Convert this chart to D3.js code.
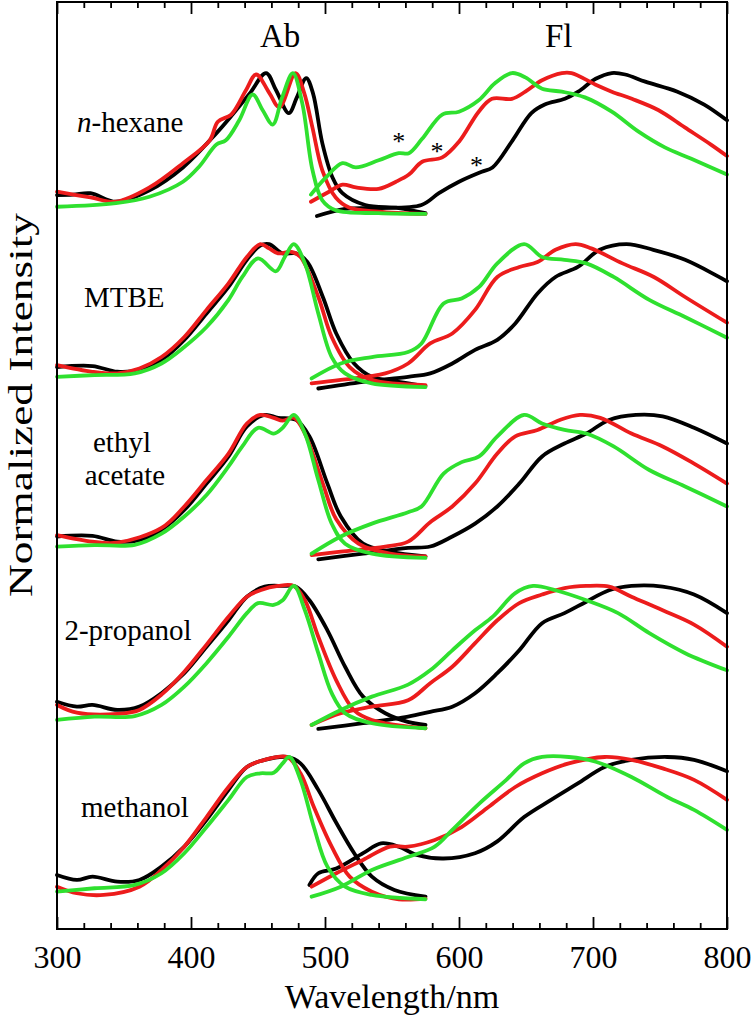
<!DOCTYPE html>
<html>
<head>
<meta charset="utf-8">
<script src="https://cdn.jsdelivr.net/npm/d3@7"></script>
<style>
  body { margin: 0; background: #fff; }
  text { font-family: "Liberation Serif", "Times New Roman", serif; fill: #000; }
</style>
</head>
<body>
<div id="chart"></div>
<script>
// wavelength (nm) / normalized intensity pairs
const hexAbBlack = [[300,0.147],[312,0.15],[325,0.16],[344,0.10],[369,0.18],[394,0.34],[419,0.58],[431,0.71],[444,0.86],[456,1.0],[463.5,0.88],[473,0.72],[479,0.83],[486,0.965],[491,0.86],[498,0.51],[505.6,0.27],[513,0.16],[530,0.077],[555,0.056],[575,0.02]];
const hexAbRed = [[300,0.17],[325,0.13],[344,0.10],[369,0.2],[394,0.37],[414,0.53],[420,0.66],[430,0.71],[441,0.88],[448.6,0.99],[458.5,0.86],[466,0.76],[478,1.0],[484.5,0.86],[490.6,0.62],[498,0.32],[508,0.13],[518,0.06],[540,0.03],[575,0.015]];
const hexAbGreen = [[300,0.065],[344,0.09],[369,0.135],[394,0.24],[406,0.345],[419,0.50],[426,0.53],[436,0.67],[446,0.85],[453.5,0.74],[461,0.64],[468,0.83],[476,1.0],[483,0.79],[490.7,0.32],[498,0.11],[508,0.04],[540,0.02],[575,0.015]];
const hexFlBlack = [[494,0],[515,0.05],[540,0.056],[572,0.077],[585,0.16],[600,0.24],[617,0.31],[625,0.34],[640,0.53],[654,0.72],[664,0.78],[679,0.82],[689,0.87],[702,0.96],[714,1.0],[724,0.99],[739,0.94],[763,0.87],[783,0.78],[800,0.67]];
const hexFlRed = [[489.5,0.1],[503,0.17],[513,0.22],[523,0.2],[540,0.19],[553,0.24],[562.6,0.29],[572.5,0.38],[587.5,0.41],[600,0.52],[614.7,0.73],[624.6,0.82],[639.5,0.82],[649.5,0.87],[662,0.95],[676.7,1.0],[684,1.0],[701.6,0.92],[714,0.87],[729,0.82],[749,0.74],[768.5,0.62],[788,0.50],[800,0.42]];
const hexFlGreen = [[489.5,0.15],[500.7,0.27],[513,0.37],[523,0.34],[540,0.39],[555,0.44],[562.6,0.44],[572.5,0.54],[587.5,0.71],[600,0.73],[614.7,0.81],[627,0.93],[639.5,1.0],[649.5,0.97],[662,0.89],[676.7,0.87],[694,0.83],[714,0.73],[734,0.59],[753.6,0.48],[773.4,0.40],[800,0.29]];

const mtbeAbBlack = [[300,0.14],[326.5,0.147],[345,0.107],[361.5,0.12],[378,0.19],[395,0.33],[411.6,0.515],[428,0.70],[441.7,0.89],[451.7,0.99],[458.3,1.0],[468.4,0.935],[478.4,0.935],[486.8,0.875],[498.4,0.63],[508.4,0.375],[521.7,0.165],[535,0.072],[555,0.037],[575,0.007]];
const mtbeAbRed = [[300,0.154],[326.5,0.107],[345,0.096],[361.5,0.13],[378,0.21],[395,0.35],[411.6,0.54],[428,0.725],[441.7,0.91],[451.7,1.0],[458.3,0.97],[465,0.935],[475,0.946],[481.7,0.91],[495,0.63],[505,0.35],[518.4,0.14],[535,0.05],[575,0.014]];
const mtbeAbGreen = [[300,0.072],[328,0.084],[358,0.096],[378,0.165],[395,0.28],[411.6,0.42],[428,0.61],[438.3,0.77],[450,0.90],[463.4,0.81],[470,0.91],[476.7,1.0],[485,0.865],[495,0.515],[505,0.21],[515,0.096],[535,0.026],[575,0]];
const mtbeFlBlack = [[495,-0.01],[528.4,0.037],[562,0.072],[578.5,0.096],[595,0.165],[612,0.26],[628.6,0.33],[642,0.445],[658.6,0.655],[672,0.77],[688.7,0.84],[705,0.96],[725,1.0],[745,0.96],[768.7,0.89],[800,0.74]];
const mtbeFlRed = [[490,0.026],[511.8,0.05],[545,0.096],[562,0.165],[578.5,0.305],[595,0.375],[612,0.54],[628.6,0.77],[645,0.84],[658.6,0.875],[672,0.96],[687,1.0],[698.7,0.97],[722,0.865],[745.4,0.77],[768.7,0.63],[800,0.45]];
const mtbeFlGreen = [[490,0.06],[511.8,0.165],[535,0.21],[562,0.245],[572,0.305],[588.5,0.585],[602,0.62],[615,0.70],[628.6,0.865],[648.6,1.0],[662,0.91],[678.7,0.89],[695,0.865],[715.4,0.77],[742,0.61],[768.7,0.49],[800,0.345]];

const eaAbBlack = [[300,0.15],[326.5,0.154],[345,0.114],[361.5,0.125],[378,0.196],[395,0.335],[411.6,0.52],[428,0.71],[441.7,0.92],[455,1.0],[465,0.98],[478.4,0.965],[488.4,0.85],[501.8,0.52],[511.8,0.29],[528.4,0.10],[548.5,0.044],[575,0.01]];
const eaAbRed = [[300,0.16],[326.5,0.114],[345,0.107],[378,0.21],[395,0.36],[411.6,0.545],[428,0.73],[441.7,0.94],[451.7,1.0],[461.7,0.98],[468.4,0.96],[476.7,0.98],[485,0.87],[498.4,0.52],[508.4,0.27],[525,0.10],[548.5,0.03],[575,0.01]];
const eaAbGreen = [[300,0.079],[328,0.09],[358,0.092],[378,0.17],[395,0.29],[411.6,0.44],[428,0.64],[438.3,0.78],[450,0.91],[461.7,0.87],[468.4,0.91],[476.7,1.0],[485,0.87],[495,0.545],[505,0.24],[515,0.10],[535,0.03],[575,0]];
const eaFlBlack = [[495,-0.01],[528.4,0.03],[562,0.07],[578.5,0.08],[595,0.15],[612,0.24],[628.6,0.36],[645,0.52],[662,0.71],[678.7,0.80],[695,0.87],[712,0.965],[732,1.0],[752,0.99],[775.4,0.91],[800,0.80]];
const eaFlRed = [[490,0.02],[511.8,0.044],[545,0.08],[562,0.114],[578.5,0.25],[595,0.36],[612,0.52],[628.6,0.73],[642,0.85],[658.6,0.895],[675.3,0.965],[690.3,1.0],[705.4,0.98],[728.7,0.87],[752,0.78],[775.4,0.66],[800,0.52]];
const eaFlGreen = [[490,0.03],[511.8,0.15],[535,0.24],[562,0.32],[572,0.36],[588.5,0.59],[602,0.67],[615,0.71],[628.6,0.85],[648.6,1.0],[662,0.94],[678.7,0.895],[695,0.87],[715.4,0.78],[742,0.615],[768.7,0.50],[800,0.36]];

const propAbBlack = [[300,0.19],[314.8,0.156],[326.5,0.168],[345,0.133],[361.5,0.156],[378,0.25],[395,0.39],[411.6,0.575],[428,0.76],[441.7,0.925],[455,0.995],[468.4,1.0],[478.4,0.995],[488.4,0.90],[501.8,0.69],[515,0.435],[528.4,0.226],[545,0.11],[561.8,0.05],[575,0.028]];
const propAbRed = [[300,0.168],[314.8,0.114],[345,0.105],[361.5,0.133],[378,0.24],[395,0.40],[411.6,0.59],[428,0.785],[441.7,0.925],[451.7,0.97],[465,1.0],[476.7,1.0],[485,0.90],[495,0.645],[508.4,0.34],[521.8,0.13],[535,0.063],[575,0.005]];
const propAbGreen = [[300,0.063],[328,0.086],[358,0.09],[378,0.168],[395,0.296],[411.6,0.46],[428,0.645],[441.7,0.81],[450,0.88],[461.7,0.867],[468.4,0.90],[476.7,1.0],[485,0.83],[495,0.53],[505,0.25],[515,0.11],[535,0.04],[575,0.005]];
const propFlBlack = [[495,0],[528.4,0.04],[562,0.086],[578.5,0.12],[595,0.156],[612,0.25],[628.6,0.39],[645,0.55],[662,0.74],[678.7,0.81],[695,0.89],[712,0.97],[728.7,1.0],[752,0.995],[775.4,0.94],[800,0.81]];
const propFlRed = [[490,0.028],[511.8,0.11],[535,0.156],[562,0.20],[578.5,0.32],[595,0.435],[612,0.60],[628.6,0.76],[645,0.88],[662,0.94],[678.7,0.985],[695,1.0],[712,0.995],[728.7,0.925],[752,0.83],[775.4,0.73],[800,0.575]];
const propFlGreen = [[490,0.028],[511.8,0.133],[535,0.226],[562,0.31],[578.5,0.41],[595,0.55],[612,0.69],[625.2,0.785],[642,0.95],[655.3,1.0],[672,0.97],[695,0.90],[718.7,0.81],[742,0.67],[768.8,0.53],[800,0.41]];

const meohAbBlack = [[300,0.175],[314.8,0.14],[326.5,0.163],[345,0.128],[361.5,0.14],[378,0.233],[395,0.373],[411.6,0.56],[428,0.77],[441.7,0.93],[455,0.98],[471.7,1.0],[481.7,0.955],[495,0.77],[508.4,0.54],[521.8,0.327],[535,0.163],[551.8,0.07],[575,0.023]];
const meohAbRed = [[300,0.093],[314.8,0.047],[334.8,0.035],[361.5,0.093],[378,0.21],[395,0.373],[411.6,0.58],[428,0.79],[441.7,0.93],[455,0.98],[471.7,1.0],[481.7,0.886],[491.7,0.65],[505,0.373],[518.4,0.163],[535,0.058],[555,0.005],[575,0.01]];
const meohAbGreen = [[300,0.058],[328,0.082],[358,0.105],[378,0.187],[395,0.327],[411.6,0.51],[428,0.70],[441.7,0.86],[451.7,0.886],[461.7,0.89],[468.4,0.955],[473.4,1.0],[481.7,0.84],[491.7,0.51],[501.8,0.233],[515,0.093],[535,0.035],[575,0.005]];
const meohFlBlack = [[488.4,0.105],[495,0.187],[508.4,0.22],[528.4,0.327],[541.8,0.396],[555,0.373],[568.5,0.315],[588.5,0.29],[611.9,0.327],[628.6,0.41],[648.6,0.58],[668.7,0.70],[688.7,0.815],[708.7,0.93],[728.7,0.98],[755.4,1.0],[775.4,0.98],[800,0.9]];
const meohFlRed = [[490,0.093],[508.4,0.187],[528.4,0.28],[548.5,0.373],[561.8,0.373],[581.9,0.42],[601.9,0.51],[622,0.65],[642,0.79],[662,0.886],[682,0.955],[708.7,1.0],[728.7,0.98],[752,0.92],[775.4,0.84],[800,0.70]];
const meohFlGreen = [[490,0.023],[511.8,0.093],[535,0.21],[561.8,0.30],[581.9,0.373],[595,0.49],[615.3,0.676],[635.3,0.84],[648.6,0.955],[662,1.0],[682,1.0],[702,0.967],[728.7,0.86],[755.4,0.72],[775.4,0.63],[800,0.49]];

const solvents = ["n-hexane", "MTBE", "ethyl acetate", "2-propanol", "methanol"];
const offsets = [4.783, 3.587, 2.392, 1.196, 0];   // vertical stacking of panels
const colors = ["#000000", "#ec1c1c", "#2fe02f"];
const majorTicks = [300, 400, 500, 600, 700, 800];
const minorTicks = d3.range(320, 800, 20).filter(d => d % 100 !== 0);
// asterisks in the n-hexane panel (wavelength, intensity)
const stars = [[555, 0.545], [583.5, 0.475], [613, 0.38]];

const W = 752, H = 1016;
const plotLeft = 57, plotRight = 727, plotTop = 2, plotBottom = 929;

const svg = d3.select("#chart").append("svg")
  .attr("width", W)
  .attr("height", H);

const x = d3.scaleLinear().domain([300, 800]).range([plotLeft, plotRight]);
const y = d3.scaleLinear().domain([-0.203, 6.28]).range([plotBottom, plotTop]);

// build the curve table
const table = [
  [hexAbBlack, hexAbRed, hexAbGreen, hexFlBlack, hexFlRed, hexFlGreen],
  [mtbeAbBlack, mtbeAbRed, mtbeAbGreen, mtbeFlBlack, mtbeFlRed, mtbeFlGreen],
  [eaAbBlack, eaAbRed, eaAbGreen, eaFlBlack, eaFlRed, eaFlGreen],
  [propAbBlack, propAbRed, propAbGreen, propFlBlack, propFlRed, propFlGreen],
  [meohAbBlack, meohAbRed, meohAbGreen, meohFlBlack, meohFlRed, meohFlGreen]
];
const curves = [];
table.forEach((row, p) => {
  row.forEach((pts, k) => {
    curves.push({ panel: p, color: colors[k % 3], order: k % 3, pts: pts });
  });
});
// black first, green on top
curves.sort((a, b) => a.order - b.order);

const line = d3.line()
  .x(d => x(d[0]))
  .y(d => y(d[1]))
  .curve(d3.curveCatmullRom.alpha(0.5));

svg.append("g")
  .attr("class", "curves")
  .selectAll("path")
  .data(curves)
  .enter().append("path")
  .attr("d", d => line(d.pts.map(p => [p[0], p[1] + offsets[d.panel]])))
  .attr("fill", "none")
  .attr("stroke", d => d.color)
  .attr("stroke-width", 3.8)
  .attr("stroke-linejoin", "round")
  .attr("stroke-linecap", "round");

// axes: ticks inside, on top and bottom only
function styleAxis(g) {
  g.select(".domain").remove();
  g.selectAll(".tick line").attr("stroke", "#000").attr("stroke-width", 1.8);
}

svg.append("g")
  .attr("transform", `translate(0,${plotBottom})`)
  .call(d3.axisBottom(x).tickValues(majorTicks).tickSize(-12).tickSizeOuter(0).tickPadding(16).tickFormat(d3.format("d")))
  .call(styleAxis)
  .selectAll("text")
  .attr("font-size", 32)
  .attr("font-family", "Liberation Serif, Times New Roman, serif");

svg.append("g")
  .attr("transform", `translate(0,${plotBottom})`)
  .call(d3.axisBottom(x).tickValues(minorTicks).tickSize(-6).tickSizeOuter(0).tickFormat(""))
  .call(styleAxis);

svg.append("g")
  .attr("transform", `translate(0,${plotTop})`)
  .call(d3.axisTop(x).tickValues(majorTicks).tickSize(-12).tickSizeOuter(0).tickFormat(""))
  .call(styleAxis);

svg.append("g")
  .attr("transform", `translate(0,${plotTop})`)
  .call(d3.axisTop(x).tickValues(minorTicks).tickSize(-6).tickSizeOuter(0).tickFormat(""))
  .call(styleAxis);

// frame
svg.append("rect")
  .attr("x", plotLeft)
  .attr("y", plotTop)
  .attr("width", plotRight - plotLeft)
  .attr("height", plotBottom - plotTop)
  .attr("fill", "none")
  .attr("stroke", "#000")
  .attr("stroke-width", 2);

// axis titles
svg.append("text")
  .attr("x", (plotLeft + plotRight) / 2)
  .attr("y", 1008)
  .attr("text-anchor", "middle")
  .attr("font-size", 34)
  .text("Wavelength/nm");

svg.append("text")
  .attr("transform", "translate(32,405) rotate(-90)")
  .attr("text-anchor", "middle")
  .attr("font-size", 34)
  .attr("textLength", 384)
  .attr("lengthAdjust", "spacingAndGlyphs")
  .text("Normalized Intensity");

svg.append("text").attr("x", 260).attr("y", 47).attr("font-size", 33).text("Ab");
svg.append("text").attr("x", 545).attr("y", 47).attr("font-size", 33).text("Fl");

// solvent labels
const lab = svg.append("g").attr("font-size", 29);
const hex = lab.append("text").attr("x", 77).attr("y", 132);
hex.append("tspan").attr("font-style", "italic").text("n");
hex.append("tspan").text("-hexane");
lab.append("text").attr("x", 84).attr("y", 307).text(solvents[1]);
lab.append("text").attr("x", 122).attr("y", 452).attr("text-anchor", "middle").text("ethyl");
lab.append("text").attr("x", 125).attr("y", 485).attr("text-anchor", "middle").text("acetate");
lab.append("text").attr("x", 128).attr("y", 640).attr("text-anchor", "middle").text(solvents[3]);
lab.append("text").attr("x", 81).attr("y", 817).text(solvents[4]);

svg.append("g")
  .selectAll("text")
  .data(stars)
  .enter().append("text")
  .attr("x", d => x(d[0]))
  .attr("y", d => y(d[1] + offsets[0]) + 12)
  .attr("text-anchor", "middle")
  .attr("font-size", 26)
  .text("*");
</script>
</body>
</html>
